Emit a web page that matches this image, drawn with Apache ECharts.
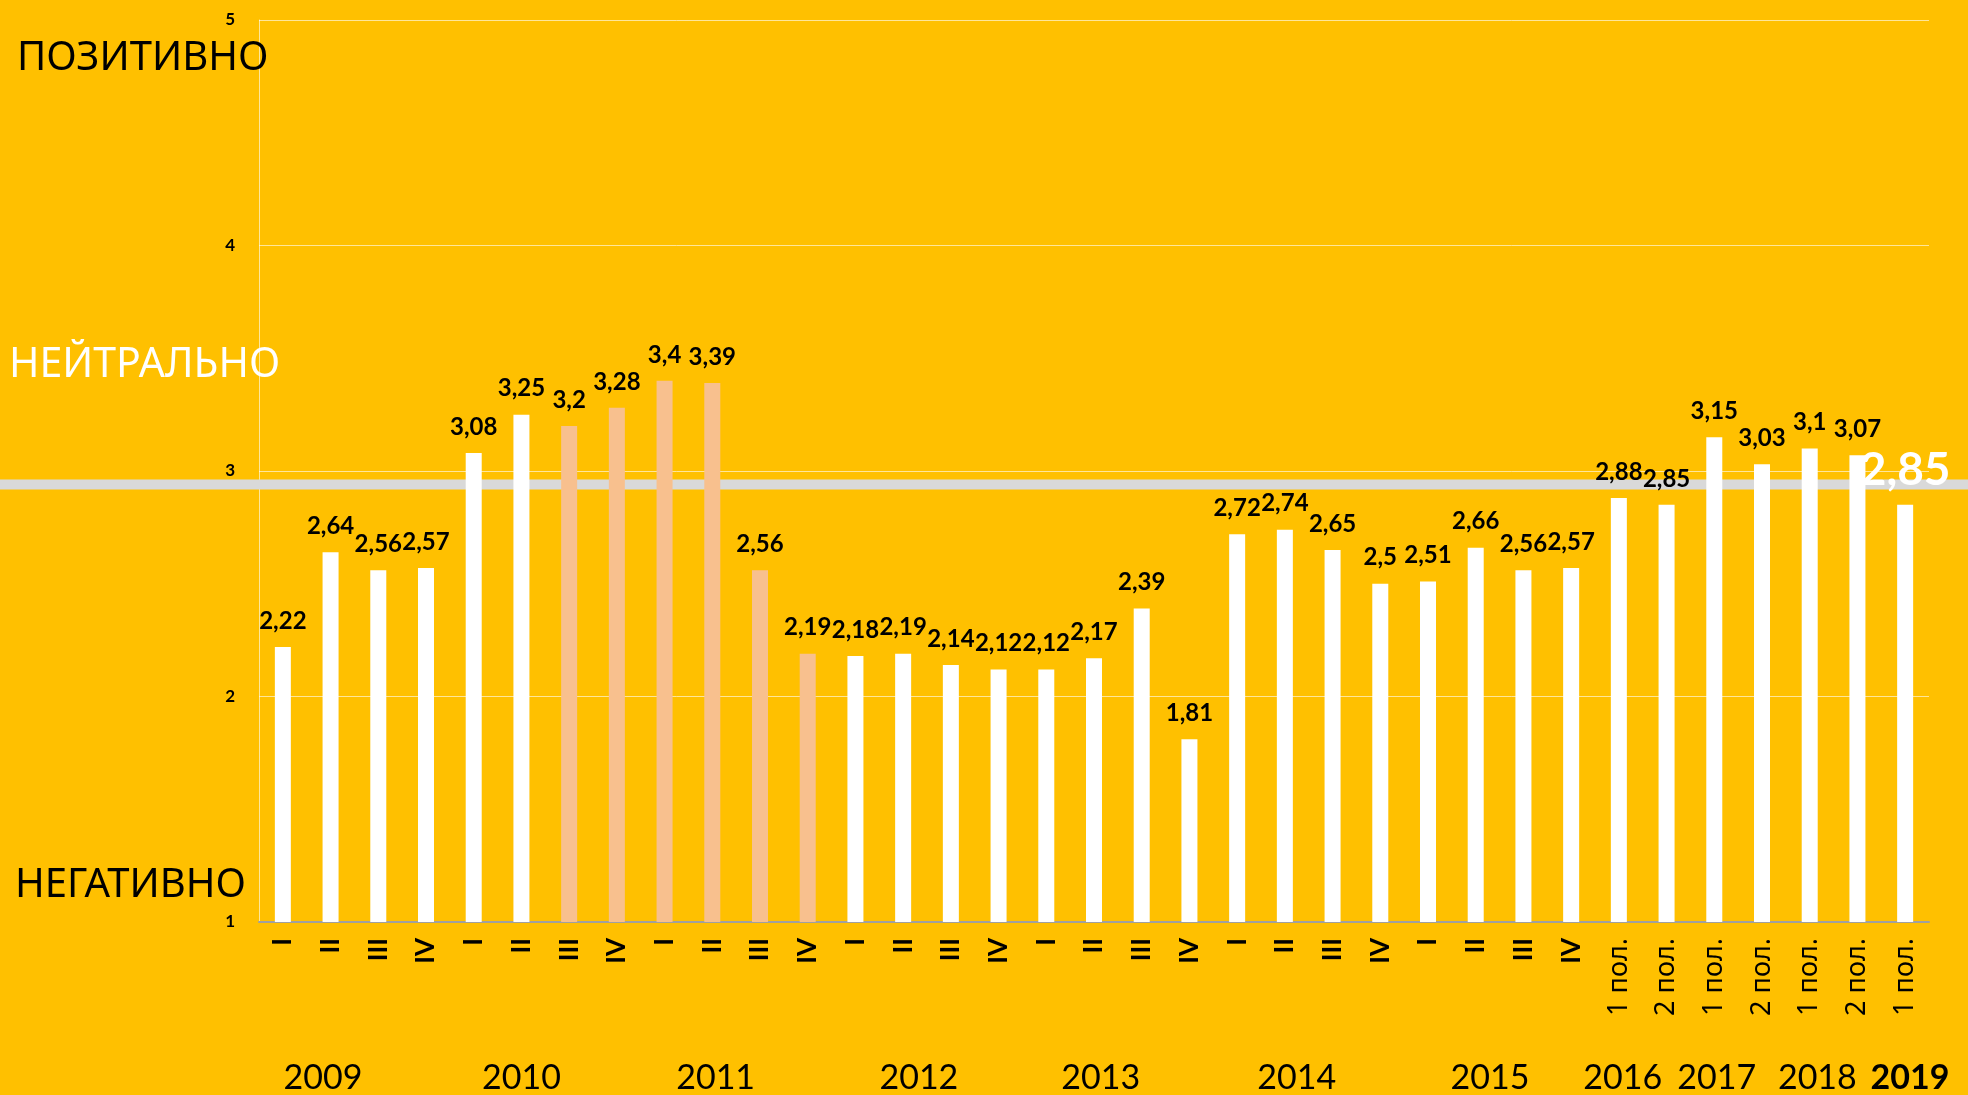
<!DOCTYPE html>
<html><head><meta charset="utf-8">
<script src="https://cdn.jsdelivr.net/npm/echarts@6/dist/echarts.min.js"></script>
<style>html,body{margin:0;padding:0;background:#FFC000;}#c{width:1968px;height:1095px;}</style>
</head><body><div id="c"></div>
<script>
// ---- data ----
const quarters = ['I', 'II', 'III', 'IV'];
const categories = [
  ...quarters, ...quarters, ...quarters, ...quarters, ...quarters, ...quarters, ...quarters,
  '1 пол.', '2 пол.', '1 пол.', '2 пол.', '1 пол.', '2 пол.', '1 пол.'
];
const values = [
  2.22, 2.64, 2.56, 2.57,
  3.08, 3.25, 3.2, 3.28,
  3.4, 3.39, 2.56, 2.19,
  2.18, 2.19, 2.14, 2.12,
  2.12, 2.17, 2.39, 1.81,
  2.72, 2.74, 2.65, 2.5,
  2.51, 2.66, 2.56, 2.57,
  2.88, 2.85, 3.15, 3.03, 3.1, 3.07, 2.85
];
const highlighted = [6, 7, 8, 9, 10, 11];
const years = ['2009', '2010', '2011', '2012', '2013', '2014', '2015', '2016', '2017', '2018', '2019'];
const yearAnchors = [0.84, 5.0, 9.07, 13.33, 17.14, 21.25, 25.3, 28.08, 30.05, 32.16, 34.1];
const yTicks = [1, 2, 3, 4, 5];
const neutralLine = 2.94;
const zoneLabels = ['ПОЗИТИВНО', 'НЕЙТРАЛЬНО', 'НЕГАТИВНО'];

// ---- styles ----
const BG = '#FFC000', WHITE = '#FFFFFF', PEACH = '#F8C08E';
const FONT = 'Lato, "Noto Sans", sans-serif';
const ZFONT = '"Noto Sans", sans-serif';
const fmt = v => String(v).replace('.', ',');
const lastIdx = values.length - 1;

const chart = echarts.init(document.getElementById('c'));
const option = {
  backgroundColor: BG,
  animation: false,
  grid: { left: 259, right: 39, top: 20, bottom: 173, outerBoundsMode: 'none' },
  xAxis: [
    {
      type: 'category', data: categories, gridIndex: 0,
      axisLine: { onZero: false, lineStyle: { color: '#A0A0A0', width: 2 } },
      axisTick: { show: false },
      axisLabel: {
        rotate: 90, margin: 16, interval: 0, color: '#000',
        formatter: v => (v.indexOf('пол') >= 0 ? '{s|' + v + '}' : '{r|' + v + '}'),
        rich: {
          r: { fontFamily: FONT, fontSize: 26, fontWeight: 'bold', color: '#000' },
          s: { fontFamily: ZFONT, fontSize: 27, color: '#000' }
        }
      }
    },
    {
      type: 'value', gridIndex: 0, position: 'bottom',
      min: -0.5, max: categories.length - 0.5,
      axisLine: { show: false, onZero: false }, axisTick: { show: false }, splitLine: { show: false },
      axisLabel: {
        customValues: yearAnchors, margin: 139, color: '#000',
        formatter: v => {
          let bi = 0;
          yearAnchors.forEach((a, i) => { if (Math.abs(a - v) < Math.abs(yearAnchors[bi] - v)) bi = i; });
          return bi === years.length - 1 ? '{b|' + years[bi] + '}' : '{n|' + years[bi] + '}';
        },
        rich: {
          n: { fontFamily: FONT, fontSize: 34, color: '#000' },
          b: { fontFamily: FONT, fontSize: 34, fontWeight: 'bold', color: '#000' }
        }
      }
    }
  ],
  yAxis: {
    type: 'value', min: yTicks[0], max: yTicks[yTicks.length - 1], interval: 1,
    axisLine: { show: true, onZero: false, lineStyle: { color: 'rgba(255,255,255,0.6)', width: 1 } },
    axisTick: { show: false },
    splitLine: { lineStyle: { color: 'rgba(255,255,255,0.6)', width: 1 } },
    axisLabel: { color: '#000', fontFamily: FONT, fontWeight: 'bold', fontSize: 17, margin: 24 }
  },
  series: [{
    type: 'bar', xAxisIndex: 0, barWidth: 16, z: 3,
    data: values.map((v, i) => ({
      value: v,
      itemStyle: { color: highlighted.includes(i) ? PEACH : WHITE },
      label: i === lastIdx
        ? { color: '#FFFFFF', fontSize: 46, fontWeight: 'bold', distance: 12 }
        : undefined
    })),
    label: {
      show: true, position: 'top', distance: 14, formatter: p => fmt(p.value),
      color: '#000', fontFamily: FONT, fontWeight: 'bold', fontSize: 24
    }
  }]
};
chart.setOption(option);

const bandY = chart.convertToPixel({ yAxisIndex: 0 }, neutralLine);
chart.setOption({
  graphic: [
    { type: 'rect', z: 1, shape: { x: 0, y: bandY - 5, width: 1968, height: 10 }, style: { fill: '#D9D9D9' } },
    { type: 'text', z: 5, left: 17, top: 39, style: { text: zoneLabels[0], fill: '#000', font: '40px ' + ZFONT } },
    { type: 'text', z: 5, left: 9, top: 345, style: { text: zoneLabels[1], fill: '#FFFFFF', font: '41px ' + ZFONT } },
    { type: 'text', z: 5, left: 15, top: 866, style: { text: zoneLabels[2], fill: '#000', font: '40px ' + ZFONT } }
  ]
});
</script>
</body></html>
